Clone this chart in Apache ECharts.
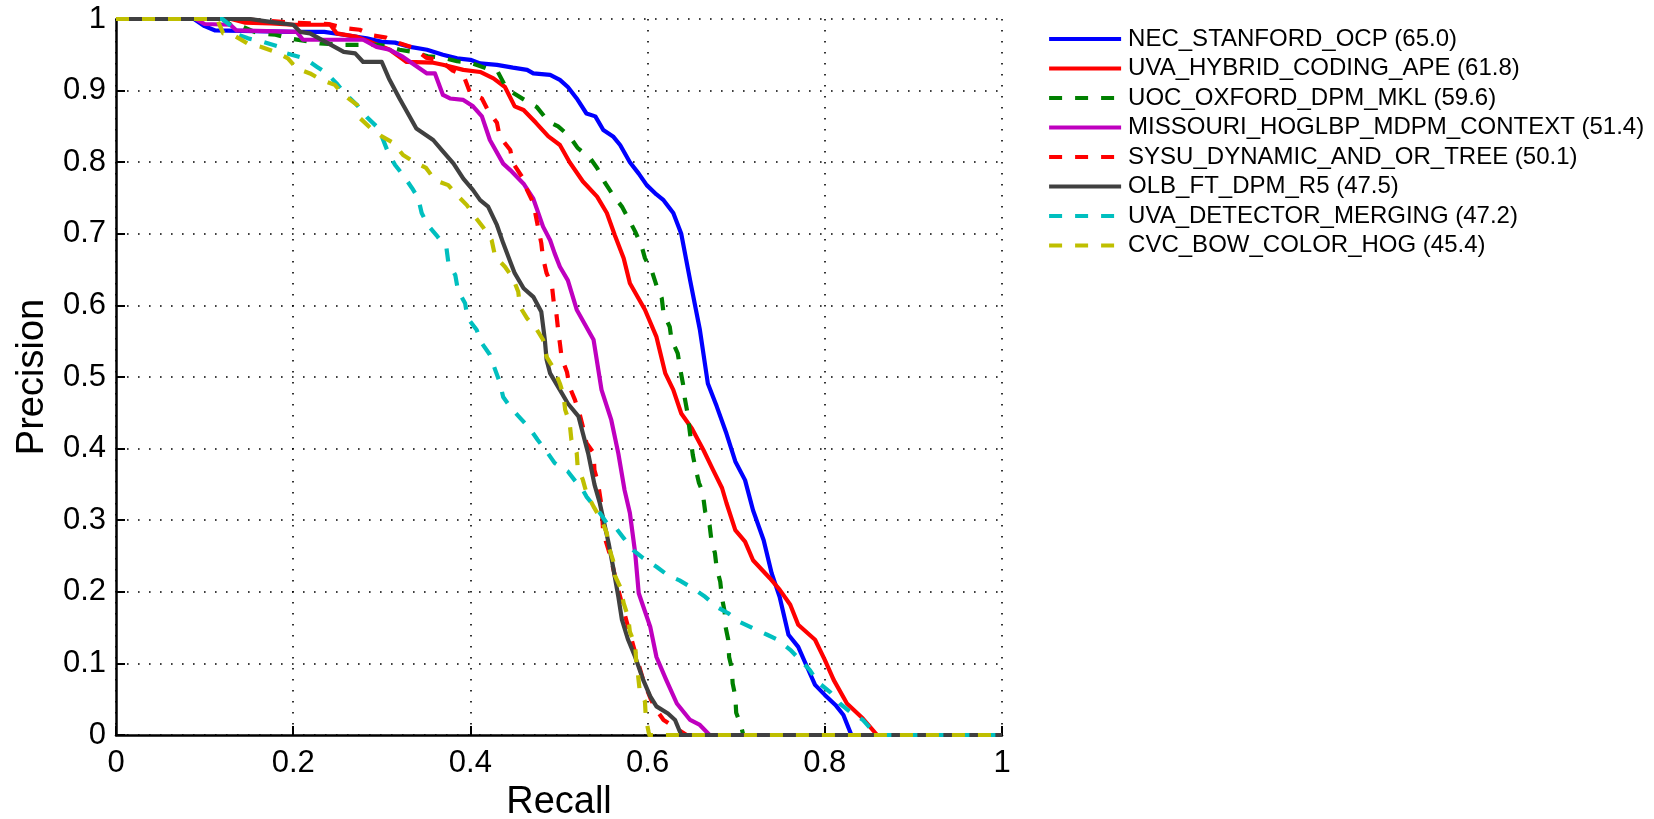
<!DOCTYPE html>
<html>
<head>
<meta charset="utf-8">
<script src="https://cdn.jsdelivr.net/npm/echarts@6/dist/echarts.min.js"></script>
<style>
html,body{margin:0;padding:0;background:#fff;}
#chart{width:1654px;height:819px;}
</style>
</head>
<body>
<div id="chart"></div>
<script>
// ---- data: [recall, precision] pairs ----
const seriesNames = [
  'NEC_STANFORD_OCP (65.0)',
  'UVA_HYBRID_CODING_APE (61.8)',
  'UOC_OXFORD_DPM_MKL (59.6)',
  'MISSOURI_HOGLBP_MDPM_CONTEXT (51.4)',
  'SYSU_DYNAMIC_AND_OR_TREE (50.1)',
  'OLB_FT_DPM_R5 (47.5)',
  'UVA_DETECTOR_MERGING (47.2)',
  'CVC_BOW_COLOR_HOG (45.4)'
];
const xTicks = [0, 0.2, 0.4, 0.6, 0.8, 1];
const yTicks = [0, 0.1, 0.2, 0.3, 0.4, 0.5, 0.6, 0.7, 0.8, 0.9, 1];

const necStanford = [[0,1],[0.088,1],[0.1,0.99],[0.112,0.984],[0.2,0.982],[0.235,0.982],[0.257,0.978],[0.283,0.973],[0.3,0.968],[0.315,0.967],[0.332,0.961],[0.351,0.957],[0.369,0.95],[0.385,0.945],[0.4,0.943],[0.411,0.938],[0.43,0.936],[0.448,0.932],[0.464,0.929],[0.471,0.924],[0.49,0.922],[0.501,0.915],[0.51,0.905],[0.52,0.889],[0.531,0.868],[0.541,0.864],[0.55,0.845],[0.561,0.836],[0.569,0.824],[0.58,0.80],[0.59,0.784],[0.599,0.768],[0.61,0.755],[0.618,0.747],[0.629,0.729],[0.638,0.70],[0.648,0.635],[0.659,0.566],[0.668,0.491],[0.678,0.459],[0.689,0.421],[0.699,0.382],[0.71,0.356],[0.719,0.314],[0.731,0.272],[0.74,0.226],[0.749,0.193],[0.759,0.14],[0.77,0.123],[0.78,0.095],[0.789,0.07],[0.80,0.056],[0.812,0.042],[0.821,0.028],[0.83,0],[1,0]];

const uvaHybrid = [[0,1],[0.13,1],[0.145,0.995],[0.175,0.994],[0.2,0.992],[0.242,0.992],[0.249,0.98],[0.272,0.975],[0.287,0.968],[0.309,0.957],[0.328,0.94],[0.358,0.939],[0.369,0.936],[0.392,0.929],[0.411,0.926],[0.426,0.917],[0.439,0.905],[0.45,0.878],[0.46,0.873],[0.474,0.855],[0.488,0.836],[0.501,0.824],[0.512,0.80],[0.527,0.773],[0.543,0.752],[0.554,0.729],[0.563,0.698],[0.573,0.666],[0.58,0.631],[0.597,0.594],[0.61,0.556],[0.62,0.505],[0.629,0.482],[0.638,0.449],[0.65,0.428],[0.663,0.398],[0.674,0.37],[0.684,0.345],[0.689,0.324],[0.699,0.286],[0.71,0.27],[0.719,0.244],[0.738,0.219],[0.749,0.203],[0.761,0.182],[0.77,0.154],[0.789,0.133],[0.80,0.105],[0.81,0.077],[0.825,0.044],[0.843,0.023],[0.859,0],[1,0]];

const uocOxford = [[0,1],[0.12,1],[0.132,0.99],[0.143,0.989],[0.16,0.98],[0.18,0.978],[0.2,0.972],[0.23,0.966],[0.256,0.964],[0.295,0.964],[0.305,0.962],[0.32,0.957],[0.335,0.954],[0.352,0.948],[0.368,0.946],[0.385,0.941],[0.40,0.939],[0.418,0.931],[0.431,0.926],[0.44,0.905],[0.448,0.897],[0.465,0.884],[0.475,0.877],[0.488,0.857],[0.499,0.85],[0.512,0.836],[0.521,0.82],[0.535,0.806],[0.543,0.792],[0.552,0.771],[0.561,0.754],[0.571,0.738],[0.578,0.722],[0.586,0.703],[0.593,0.684],[0.597,0.666],[0.605,0.647],[0.61,0.628],[0.616,0.61],[0.618,0.589],[0.625,0.57],[0.627,0.552],[0.634,0.533],[0.637,0.51],[0.64,0.49],[0.642,0.47],[0.645,0.45],[0.647,0.43],[0.649,0.41],[0.651,0.391],[0.654,0.373],[0.658,0.352],[0.662,0.34],[0.665,0.312],[0.67,0.293],[0.672,0.272],[0.676,0.254],[0.678,0.233],[0.682,0.214],[0.684,0.191],[0.687,0.172],[0.688,0.151],[0.691,0.133],[0.692,0.109],[0.695,0.093],[0.696,0.072],[0.699,0.054],[0.70,0.031],[0.705,0.015],[0.708,0],[1,0]];

const missouri = [[0,1],[0.09,1],[0.1,0.993],[0.129,0.992],[0.136,0.984],[0.204,0.982],[0.211,0.971],[0.279,0.971],[0.294,0.961],[0.309,0.957],[0.324,0.947],[0.351,0.924],[0.36,0.924],[0.369,0.894],[0.377,0.889],[0.392,0.887],[0.403,0.878],[0.413,0.864],[0.422,0.831],[0.437,0.798],[0.445,0.789],[0.46,0.77],[0.471,0.749],[0.482,0.71],[0.49,0.691],[0.495,0.673],[0.501,0.654],[0.51,0.635],[0.52,0.594],[0.539,0.552],[0.548,0.482],[0.559,0.44],[0.567,0.393],[0.574,0.342],[0.58,0.31],[0.586,0.254],[0.59,0.198],[0.603,0.151],[0.61,0.109],[0.621,0.077],[0.633,0.044],[0.648,0.021],[0.659,0.014],[0.67,0],[1,0]];

const sysuTree = [[0,1],[0.14,1],[0.2,0.995],[0.24,0.993],[0.26,0.987],[0.275,0.985],[0.29,0.977],[0.305,0.974],[0.32,0.966],[0.335,0.96],[0.35,0.946],[0.366,0.942],[0.38,0.928],[0.392,0.922],[0.40,0.896],[0.413,0.889],[0.42,0.872],[0.43,0.855],[0.433,0.836],[0.445,0.817],[0.448,0.799],[0.458,0.78],[0.464,0.761],[0.471,0.743],[0.474,0.724],[0.477,0.705],[0.48,0.687],[0.482,0.666],[0.486,0.645],[0.492,0.628],[0.494,0.605],[0.497,0.589],[0.499,0.566],[0.501,0.547],[0.503,0.527],[0.509,0.507],[0.512,0.486],[0.518,0.468],[0.524,0.445],[0.527,0.43],[0.531,0.408],[0.539,0.394],[0.54,0.37],[0.544,0.352],[0.548,0.32],[0.55,0.282],[0.558,0.25],[0.565,0.212],[0.576,0.16],[0.586,0.115],[0.595,0.077],[0.604,0.049],[0.61,0.035],[0.618,0.021],[0.629,0.012],[0.644,0],[1,0]];

const olbFtDpm = [[0,1],[0.151,1],[0.174,0.996],[0.2,0.992],[0.208,0.982],[0.219,0.98],[0.238,0.967],[0.257,0.954],[0.27,0.952],[0.279,0.94],[0.30,0.94],[0.308,0.917],[0.32,0.889],[0.339,0.847],[0.358,0.831],[0.369,0.815],[0.381,0.798],[0.392,0.777],[0.403,0.761],[0.411,0.747],[0.42,0.738],[0.43,0.712],[0.437,0.687],[0.445,0.661],[0.45,0.645],[0.46,0.624],[0.471,0.612],[0.48,0.591],[0.484,0.552],[0.486,0.524],[0.49,0.505],[0.501,0.482],[0.51,0.463],[0.522,0.445],[0.527,0.421],[0.533,0.393],[0.54,0.35],[0.546,0.324],[0.556,0.268],[0.561,0.235],[0.567,0.193],[0.571,0.161],[0.578,0.133],[0.586,0.109],[0.595,0.077],[0.603,0.054],[0.61,0.04],[0.623,0.03],[0.631,0.021],[0.638,0],[1,0]];

const uvaDetector = [[0,1],[0.12,1],[0.13,0.99],[0.138,0.978],[0.149,0.973],[0.166,0.968],[0.185,0.961],[0.193,0.952],[0.213,0.945],[0.227,0.933],[0.238,0.924],[0.249,0.91],[0.26,0.894],[0.272,0.88],[0.283,0.863],[0.294,0.85],[0.30,0.836],[0.307,0.814],[0.315,0.796],[0.324,0.782],[0.334,0.764],[0.341,0.75],[0.345,0.729],[0.352,0.712],[0.363,0.696],[0.373,0.68],[0.375,0.661],[0.383,0.642],[0.386,0.621],[0.394,0.603],[0.397,0.582],[0.407,0.566],[0.413,0.547],[0.422,0.531],[0.428,0.51],[0.433,0.493],[0.437,0.472],[0.445,0.458],[0.456,0.443],[0.467,0.428],[0.476,0.412],[0.486,0.396],[0.495,0.38],[0.51,0.368],[0.52,0.352],[0.527,0.342],[0.531,0.333],[0.54,0.319],[0.544,0.314],[0.554,0.296],[0.563,0.291],[0.573,0.275],[0.584,0.258],[0.595,0.247],[0.61,0.235],[0.623,0.223],[0.636,0.216],[0.651,0.205],[0.665,0.193],[0.678,0.179],[0.691,0.17],[0.704,0.158],[0.719,0.149],[0.735,0.14],[0.747,0.133],[0.761,0.119],[0.772,0.105],[0.783,0.091],[0.792,0.074],[0.806,0.06],[0.817,0.044],[0.828,0.033],[0.843,0.021],[0.853,0.007],[0.856,0],[1,0]];

const cvcBow = [[0,1],[0.114,1],[0.121,0.98],[0.132,0.978],[0.148,0.966],[0.164,0.961],[0.18,0.954],[0.194,0.945],[0.204,0.931],[0.219,0.924],[0.232,0.915],[0.247,0.908],[0.257,0.894],[0.272,0.88],[0.275,0.862],[0.287,0.848],[0.30,0.836],[0.313,0.827],[0.324,0.81],[0.337,0.80],[0.35,0.792],[0.36,0.775],[0.375,0.768],[0.385,0.754],[0.396,0.74],[0.405,0.724],[0.415,0.708],[0.424,0.691],[0.428,0.668],[0.439,0.654],[0.448,0.638],[0.454,0.619],[0.456,0.598],[0.464,0.582],[0.475,0.566],[0.482,0.552],[0.486,0.528],[0.494,0.512],[0.501,0.491],[0.505,0.475],[0.507,0.454],[0.512,0.436],[0.514,0.412],[0.52,0.394],[0.521,0.375],[0.527,0.356],[0.531,0.338],[0.539,0.319],[0.548,0.30],[0.554,0.282],[0.556,0.263],[0.561,0.244],[0.563,0.223],[0.569,0.207],[0.573,0.184],[0.578,0.165],[0.58,0.144],[0.586,0.126],[0.587,0.105],[0.589,0.086],[0.591,0.063],[0.597,0.047],[0.598,0.024],[0.601,0.005],[0.602,0],[1,0]];

const seriesData = [necStanford, uvaHybrid, uocOxford, missouri, sysuTree, olbFtDpm, uvaDetector, cvcBow];
const seriesColors = ['#0000ff', '#ff0000', '#008000', '#bf00bf', '#ff0000', '#404040', '#00bfbf', '#bfbf00'];
const seriesDashed = [false, false, true, false, true, false, true, true];

const FONT = '"Liberation Sans", Arial, Helvetica, sans-serif';
const DASH = [13, 13];
const LW = 4.2;

const chart = echarts.init(document.getElementById('chart'), null, {renderer: 'canvas'});

const series = seriesNames.map((name, i) => ({
  name: name,
  type: 'line',
  data: seriesData[i],
  symbol: 'none',
  showSymbol: false,
  smooth: false,
  clip: true,
  itemStyle: {color: seriesColors[i]},
  lineStyle: {color: seriesColors[i], width: LW, type: seriesDashed[i] ? DASH : 'solid', cap: 'butt', join: 'round'},
  emphasis: {disabled: true}
}));

const axisCommon = {
  type: 'value',
  axisLine: {show: true, onZero: false, lineStyle: {color: '#000', width: 2.5}},
  axisTick: {show: true, inside: true, length: 9, lineStyle: {color: '#000', width: 2}},
  splitLine: {show: true, lineStyle: {color: '#000', width: 1.6, type: [1.6, 9.4]}},
  nameLocation: 'middle',
  nameTextStyle: {fontSize: 38, color: '#000', fontFamily: FONT}
};

chart.setOption({
  animation: false,
  backgroundColor: '#fff',
  grid: {left: 116, top: 19, width: 886, height: 716, containLabel: false, outerBoundsMode: 'none'},
  xAxis: Object.assign({}, axisCommon, {
    min: xTicks[0], max: xTicks[xTicks.length - 1], interval: xTicks[1] - xTicks[0],
    name: 'Recall', nameGap: 46,
    axisLabel: {fontSize: 31, color: '#000', margin: 13, fontFamily: FONT,
      formatter: v => String(+v.toFixed(1))}
  }),
  yAxis: Object.assign({}, axisCommon, {
    min: yTicks[0], max: yTicks[yTicks.length - 1], interval: yTicks[1] - yTicks[0],
    name: 'Precision', nameGap: 62,
    axisLabel: {fontSize: 31, color: '#000', margin: 10, fontFamily: FONT,
      formatter: v => String(+v.toFixed(1))}
  }),
  legend: {
    orient: 'vertical',
    left: 1042, top: 22,
    itemWidth: 72, itemHeight: 14, itemGap: 5.5,
    itemStyle: {opacity: 0, borderWidth: 0},
    lineStyle: {width: LW},
    textStyle: {fontSize: 24, color: '#000', fontFamily: FONT, padding: [0, 0, 0, 2]},
    data: seriesNames,
    selectedMode: false
  },
  series: series
});
</script>
</body>
</html>
